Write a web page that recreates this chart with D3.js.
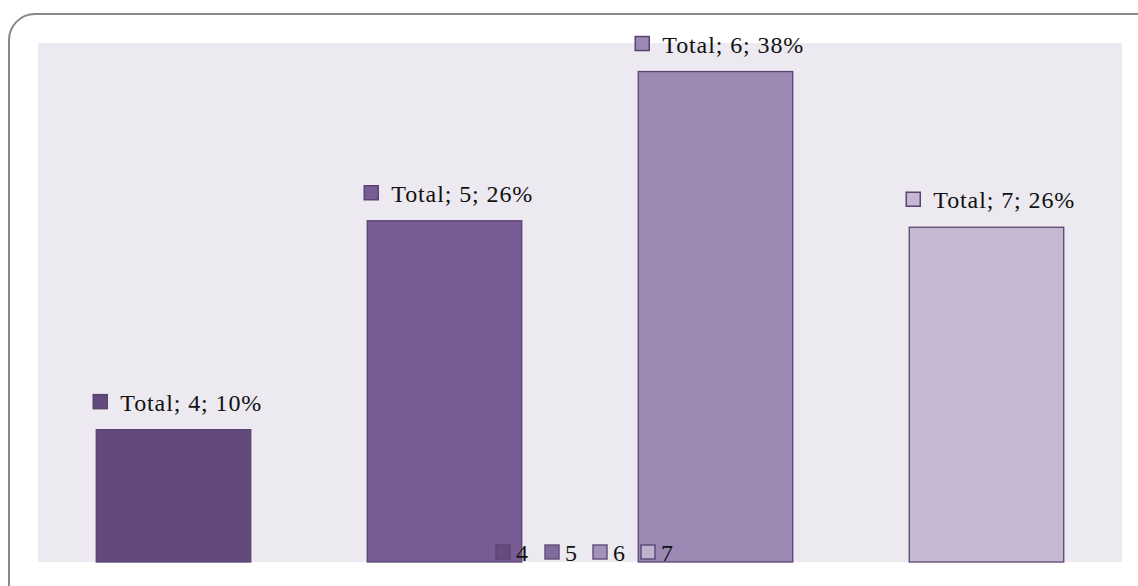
<!DOCTYPE html>
<html><head><meta charset="utf-8">
<script src="https://cdn.jsdelivr.net/npm/d3@7"></script>
<style>html,body{margin:0;padding:0;background:#fff;}svg{display:block;}</style>
</head><body>
<svg id="c" width="1138" height="586"></svg>
<script>
const categories = ["4", "5", "6", "7"];
const values = [10.2, 26.3, 37.8, 25.8];
const labels = ["Total; 4; 10%", "Total; 5; 26%", "Total; 6; 38%", "Total; 7; 26%"];
const colors = ["#624B7C", "#775C95", "#9B89B3", "#C4B9D0"];
const yDomain = [0, 40];

const svg = d3.select("#c");
const plot = {left: 38, right: 1122, top: 43, bottom: 562};
const font = "'Liberation Serif','DejaVu Serif',serif";

// outer rounded frame
svg.append("rect").attr("x", 9).attr("y", 14).attr("width", 1160).attr("height", 620)
  .attr("rx", 26).attr("ry", 26).attr("fill", "#fff").attr("stroke", "#888").attr("stroke-width", 2);

svg.append("rect").attr("x", plot.left).attr("y", plot.top)
  .attr("width", plot.right - plot.left).attr("height", plot.bottom - plot.top).attr("fill", "#ECE9F0");

const x = d3.scaleBand().domain(categories).range([plot.left, plot.right]).paddingInner(0.43).paddingOuter(0.215);
const y = d3.scaleLinear().domain(yDomain).range([plot.bottom, plot.top]);

const g = svg.append("g");
g.selectAll("rect.bar").data(categories).join("rect").attr("class", "bar")
  .attr("x", d => x(d)).attr("width", x.bandwidth())
  .attr("y", (d, i) => y(values[i])).attr("height", (d, i) => y(0) - y(values[i]))
  .attr("fill", (d, i) => colors[i]).attr("stroke", "#5A4373").attr("stroke-width", 1.3);

// data labels
const lab = g.selectAll("g.lab").data(categories).join("g").attr("class", "lab")
  .attr("transform", (d, i) => `translate(${x(d) - 3},${y(values[i]) - 28})`);
lab.append("rect").attr("x", 0).attr("y", -7).attr("width", 14).attr("height", 14)
  .attr("fill", (d, i) => colors[i]).attr("stroke", "#5A4373").attr("stroke-width", 1.5);
lab.append("text").attr("x", 27).attr("y", 9).text((d, i) => labels[i])
  .attr("font-family", font).attr("font-size", 24).attr("letter-spacing", 0.9).attr("fill", "#111");

// legend
const legX = [496, 545, 593, 641];
const leg = svg.append("g").selectAll("g").data(categories).join("g")
  .attr("transform", (d, i) => `translate(${legX[i]},552)`);
leg.append("rect").attr("x", 0).attr("y", -7).attr("width", 14).attr("height", 14)
  .attr("fill", (d, i) => colors[i]).attr("stroke", "#5A4373").attr("stroke-width", 1.5).attr("opacity", 0.9);
leg.append("text").attr("x", 20).attr("y", 9).text(d => d)
  .attr("font-family", font).attr("font-size", 24).attr("fill", "#111");
</script>
</body></html>
